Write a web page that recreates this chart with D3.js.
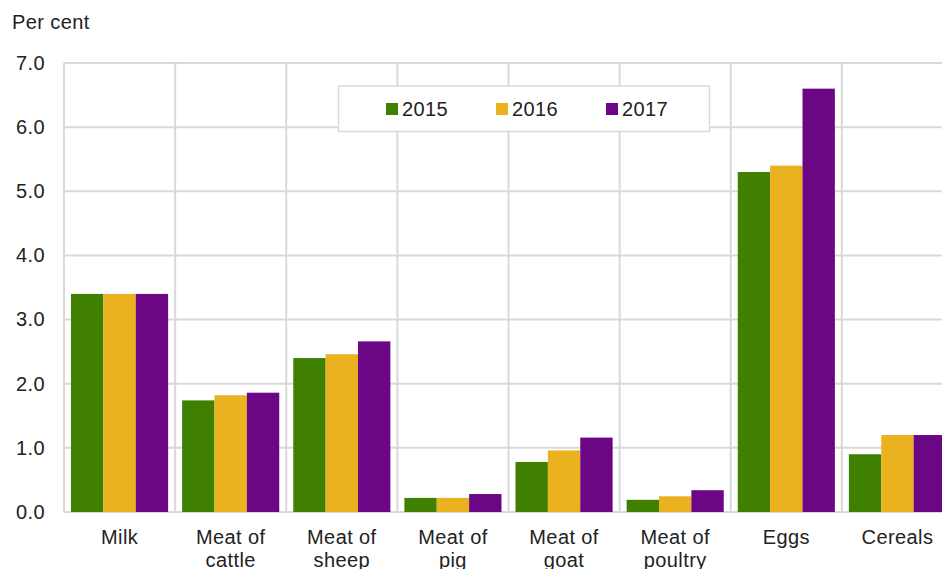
<!DOCTYPE html>
<html>
<head>
<meta charset="utf-8">
<title>Per cent by product</title>
<script src="https://d3js.org/d3.v7.min.js"></script>
<style>
  body { margin: 0; background: #fff; }
  svg text { font-family: "Liberation Sans", Arial, sans-serif; fill: #222; letter-spacing: 0.4px; }
</style>
</head>
<body>
<div id="chart"></div>
<script>
// data
var categories = ["Milk", "Meat of\ncattle", "Meat of\nsheep", "Meat of\npig", "Meat of\ngoat", "Meat of\npoultry", "Eggs", "Cereals"];
var years = ["2015", "2016", "2017"];
var v2015 = [3.4, 1.74, 2.4, 0.22, 0.78, 0.19, 5.3, 0.9];
var v2016 = [3.4, 1.82, 2.46, 0.22, 0.96, 0.245, 5.4, 1.2];
var v2017 = [3.4, 1.86, 2.66, 0.28, 1.16, 0.34, 6.6, 1.2];
var yTicks = [0, 1, 2, 3, 4, 5, 6, 7];
var colors = ["#408000", "#eab21f", "#6b0785"];

var series = [v2015, v2016, v2017];

var width = 942, height = 569;
var plotLeft = 64, plotTop = 63, plotRight = 953, plotBottom = 512;

var svg = d3.select("#chart").append("svg")
  .attr("width", width)
  .attr("height", height);

var x0 = d3.scaleBand().domain(d3.range(categories.length)).range([plotLeft, plotRight]);
var x1 = d3.scaleBand().domain(d3.range(years.length))
  .range([x0.bandwidth() * 0.063, x0.bandwidth() * 0.937]);
var y = d3.scaleLinear().domain([0, 7]).range([plotBottom, plotTop]);

// gridlines
var grid = svg.append("g").attr("stroke", "#d9d9d9").attr("stroke-width", 2);
grid.selectAll("line.h").data(yTicks).enter().append("line")
  .attr("x1", plotLeft).attr("x2", plotRight)
  .attr("y1", function(d) { return y(d); }).attr("y2", function(d) { return y(d); });
grid.selectAll("line.v").data(d3.range(categories.length + 1)).enter().append("line")
  .attr("x1", function(i) { return plotLeft + i * x0.step(); })
  .attr("x2", function(i) { return plotLeft + i * x0.step(); })
  .attr("y1", plotTop).attr("y2", plotBottom);

// y axis labels
var yAxis = d3.axisLeft(y).tickValues(yTicks).tickFormat(d3.format(".1f")).tickSize(0).tickPadding(19);
var ya = svg.append("g").attr("transform", "translate(" + plotLeft + ",0)").call(yAxis);
ya.select(".domain").remove();
ya.selectAll("text").style("font-size", "20px").attr("fill", "#222")
  .style("font-family", "'Liberation Sans', Arial, sans-serif");

svg.append("text").attr("x", 12).attr("y", 29).style("font-size", "20px").text("Per cent");

// bars
var groups = svg.selectAll("g.cat").data(categories).enter().append("g")
  .attr("class", "cat")
  .attr("transform", function(d, i) { return "translate(" + x0(i) + ",0)"; });

groups.selectAll("rect").data(function(d, i) {
    return series.map(function(s, k) { return { k: k, v: s[i] }; });
  }).enter().append("rect")
  .attr("x", function(d) { return x1(d.k); })
  .attr("width", x1.bandwidth())
  .attr("y", function(d) { return y(d.v); })
  .attr("height", function(d) { return y(0) - y(d.v); })
  .attr("fill", function(d) { return colors[d.k]; });

// category labels
groups.append("text")
  .attr("x", x0.bandwidth() / 2)
  .attr("text-anchor", "middle")
  .style("font-size", "20px")
  .selectAll("tspan").data(function(d) { return d.split("\n"); }).enter().append("tspan")
  .attr("x", x0.bandwidth() / 2)
  .attr("y", function(d, i) { return 544 + i * 23; })
  .text(function(d) { return d; });

// legend
var legend = svg.append("g");
legend.append("rect")
  .attr("x", 338.5).attr("y", 86).attr("width", 371).attr("height", 45.5)
  .attr("fill", "#fff").attr("stroke", "#d9d9d9").attr("stroke-width", 1.5);
var items = legend.selectAll("g.item").data(years).enter().append("g")
  .attr("transform", function(d, i) { return "translate(" + (386 + i * 110) + ",0)"; });
items.append("rect").attr("x", 0).attr("y", 103).attr("width", 12).attr("height", 12)
  .attr("fill", function(d, i) { return colors[i]; });
items.append("text").attr("x", 16).attr("y", 116).style("font-size", "20px")
  .text(function(d) { return d; });
</script>
</body>
</html>
